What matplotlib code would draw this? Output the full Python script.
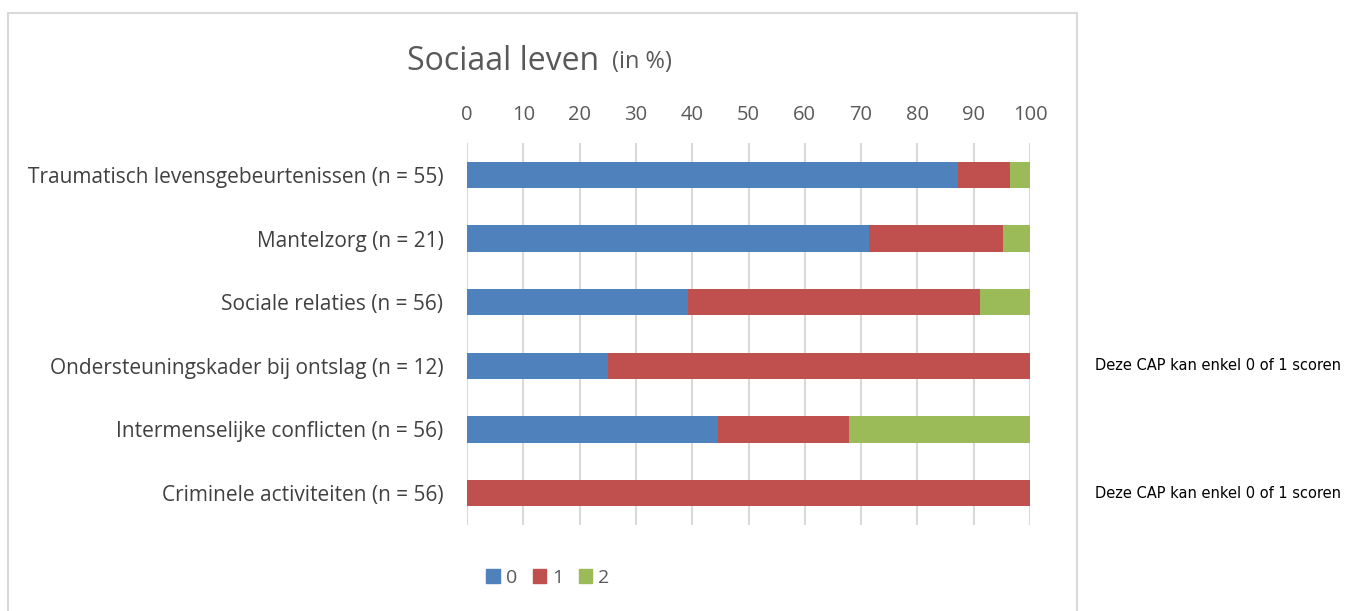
import matplotlib.pyplot as plt
from matplotlib.patches import Rectangle, Patch

categories = ["Traumatisch levensgebeurtenissen (n = 55)",
              "Mantelzorg (n = 21)",
              "Sociale relaties (n = 56)",
              "Ondersteuningskader bij ontslag (n = 12)",
              "Intermenselijke conflicten (n = 56)",
              "Criminele activiteiten (n = 56)"]
score0 = [87.3, 71.4, 39.3, 25.0, 44.6, 0.0]
score1 = [9.1, 23.8, 51.8, 75.0, 23.2, 100.0]
score2 = [3.6, 4.8, 8.9, 0.0, 32.2, 0.0]
series_labels = ["0", "1", "2"]
colors = ["#4f81bd", "#c0504d", "#9bbb59"]
xticks = list(range(0, 101, 10))
notes = {3: "Deze CAP kan enkel 0 of 1 scoren", 5: "Deze CAP kan enkel 0 of 1 scoren"}

plt.rcParams['font.family'] = ['Open Sans', 'DejaVu Sans']
W, H = 1350, 611
fig = plt.figure(figsize=(13.5, 6.11), dpi=100)
ax = fig.add_axes([467/W, 1-525/H, (1030-467)/W, (525-143)/H])

ypos = list(range(len(categories)))
left = [0]*len(categories)
for vals, lab, col in zip([score0, score1, score2], series_labels, colors):
    ax.barh(ypos, vals, left=left, height=0.41, color=col, label=lab, zorder=3)
    left = [a+b for a, b in zip(left, vals)]

ax.set_xlim(0, 100)
ax.set_ylim(len(categories)-0.5, -0.5)
ax.set_xticks(xticks)
ax.xaxis.tick_top()
ax.tick_params(axis='x', length=0, pad=13, labelsize=14.5, labelcolor='#595959')
ax.set_yticks(ypos)
ax.set_yticklabels(categories)
ax.tick_params(axis='y', length=0, pad=17, labelsize=15, labelcolor='#404040')
ax.grid(axis='x', color='#d9d9d9', linewidth=1.5, zorder=0)
for s in ax.spines.values():
    s.set_visible(False)

# title
fig.text(407/W, 1-61/H, "Sociaal leven", fontsize=23, color='#595959', va='center', ha='left')
fig.text(612/W, 1-62/H, "(in %)", fontsize=17, color='#595959', va='center', ha='left')

# legend
handles = [Patch(color=c, label=l) for c, l in zip(colors, series_labels)]
fig.legend(handles=handles, loc='center', bbox_to_anchor=(548/W, 1-578/H), ncol=3,
           frameon=False, fontsize=14, handlelength=0.7, handleheight=0.7,
           handletextpad=0.3, columnspacing=0.8, labelcolor='#595959')

# chart border
fig.patches.append(Rectangle((8/W, -0.05), (1077-8)/W, 1.05-13/H, transform=fig.transFigure,
                             fill=False, edgecolor='#d9d9d9', linewidth=1.5))

for i, txt in notes.items():
    fig.text(1218/W, ax.transData.transform((0, i))[1]/H, txt, fontsize=10.5,
             family=['Liberation Sans Narrow', 'DejaVu Sans'], color='black', va='center', ha='center')

fig.savefig("out.png", dpi=100, facecolor='white')
